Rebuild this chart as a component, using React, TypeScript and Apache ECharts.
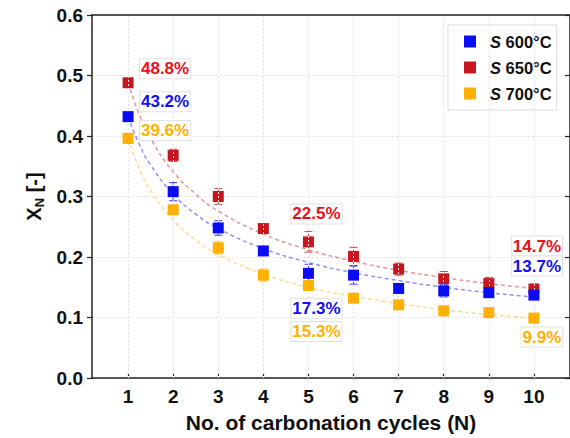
import React, { useEffect, useRef } from "react";
import * as echarts from "echarts";

const cycles = [1, 2, 3, 4, 5, 6, 7, 8, 9, 10];
const s600 = [0.432, 0.308, 0.248, 0.21, 0.173, 0.17, 0.148, 0.144, 0.141, 0.137];
const s650 = [0.488, 0.368, 0.3, 0.247, 0.225, 0.201, 0.18, 0.164, 0.156, 0.147];
const s700 = [0.396, 0.278, 0.215, 0.17, 0.153, 0.132, 0.121, 0.111, 0.108, 0.099];
const err600 = [0.004, 0.015, 0.012, 0.004, 0.015, 0.015, 0.006, 0.01, 0.006, 0.005];
const err650 = [0.004, 0.01, 0.013, 0.004, 0.017, 0.015, 0.01, 0.012, 0.01, 0.008];
const err700 = [0.004, 0.006, 0.01, 0.01, 0.007, 0.004, 0.004, 0.004, 0.004, 0.004];

// fitted trend curves
const fitN = [1, 1.25, 1.5, 2, 2.5, 3, 4, 5, 6, 7, 8, 9, 10];
const fit600 = [0.432, 0.386, 0.352, 0.304, 0.271, 0.247, 0.214, 0.191, 0.174, 0.161, 0.15, 0.141, 0.134];
const fit650 = [0.488, 0.435, 0.396, 0.341, 0.304, 0.276, 0.238, 0.212, 0.193, 0.178, 0.166, 0.156, 0.148];
const fit700 = [0.396, 0.346, 0.31, 0.261, 0.228, 0.204, 0.172, 0.15, 0.135, 0.123, 0.113, 0.105, 0.099];

const seriesNames = ["S 600°C", "S 650°C", "S 700°C"];

// annotations: cycle index and text
const notes600 = [
  { n: 1, text: "43.2%" },
  { n: 5, text: "17.3%" },
  { n: 10, text: "13.7%" },
];
const notes650 = [
  { n: 1, text: "48.8%" },
  { n: 5, text: "22.5%" },
  { n: 10, text: "14.7%" },
];
const notes700 = [
  { n: 1, text: "39.6%" },
  { n: 5, text: "15.3%" },
  { n: 10, text: "9.9%" },
];

const FONT = "'Liberation Sans', Arial, sans-serif";
const C600 = "#0a0cf5";
const C650 = "#c8161e";
const C700 = "#ffb000";
const L600 = "#1010f0";
const L650 = "#e8101a";
const L700 = "#ffb000";

export default function App() {
  const ref = useRef<HTMLDivElement>(null);
  useEffect(() => {
    document.body.style.margin = "0";
    const chart = echarts.init(ref.current!, null, { renderer: "svg" });

    const offsets: Record<string, number[][]> = {
      s600: [[37, -15], [8, 35], [3, -29]],
      s650: [[37, -14], [8, -28], [3, -43]],
      s700: [[37, -8], [8, 46], [8, 19]],
    };

    const makeMarks = (notes: { n: number; text: string }[], vals: number[], color: string, offs: number[][]) => ({
      symbol: "rect",
      symbolSize: 0,
      silent: true,
      data: notes.map((nt, i) => ({
        coord: [nt.n, vals[cycles.indexOf(nt.n)]],
        value: nt.text,
        label: {
          show: true,
          position: "inside",
          offset: offs[i],
          formatter: nt.text,
          color,
          fontFamily: FONT,
          fontWeight: "bold",
          fontSize: 17,
          backgroundColor: "#ffffff",
          borderColor: "#e2e2e2",
          borderWidth: 1,
          padding: [2, 1, 0, 1],
        },
      })),
    });

    const errSeries = (vals: number[], errs: number[], color: string, z: number) => ({
      type: "custom",
      z,
      silent: true,
      data: cycles.map((c, i) => [c, vals[i], errs[i]]),
      renderItem: (params: any, api: any) => {
        const x = api.value(0);
        const y = api.value(1);
        const e = api.value(2);
        const top = api.coord([x, y + e]);
        const bot = api.coord([x, y - e]);
        const w = 4;
        const style = { stroke: color, lineWidth: 1, opacity: 0.8 };
        return {
          type: "group",
          children: [
            { type: "line", shape: { x1: top[0], y1: top[1], x2: bot[0], y2: bot[1] }, style },
            { type: "line", shape: { x1: top[0] - w, y1: top[1], x2: top[0] + w, y2: top[1] }, style },
            { type: "line", shape: { x1: bot[0] - w, y1: bot[1], x2: bot[0] + w, y2: bot[1] }, style },
          ],
        };
      },
    });

    const fitSeries = (vals: number[], color: string) => ({
      type: "line",
      data: fitN.map((n, i) => [n, vals[i]]),
      smooth: true,
      symbol: "none",
      silent: true,
      z: 1,
      lineStyle: { color, width: 1.5, type: [4, 3], opacity: 0.45 },
    });

    const scatter = (name: string, vals: number[], color: string, z: number, marks: any) => ({
      name,
      type: "scatter",
      symbol: "rect",
      symbolSize: 11,
      z,
      itemStyle: { color, opacity: 1 },
      data: cycles.map((c, i) => [c, vals[i]]),
      markPoint: marks,
    });

    chart.setOption({
      animation: false,
      backgroundColor: "#ffffff",
      grid: { left: 92, top: 15, right: -5, bottom: 58.7, containLabel: false },
      legend: {
        data: seriesNames,
        left: 448,
        top: 25,
        orient: "vertical",
        itemWidth: 12,
        itemHeight: 12,
        itemGap: 9,
        icon: "rect",
        backgroundColor: "#ffffff",
        borderColor: "#dddddd",
        borderWidth: 1,
        borderRadius: 0,
        padding: [8, 5, 8, 16],
        itemStyle: { opacity: 1 },
        formatter: (name: string) => "{i|S}{t|" + name.slice(1) + "}",
        textStyle: {
          fontFamily: FONT,
          fontWeight: "bold",
          fontSize: 16.5,
          color: "#111",
          padding: [0, 0, 0, 9],
          rich: {
            i: { fontFamily: FONT, fontWeight: "bold", fontStyle: "italic", fontSize: 16.5, color: "#111" },
            t: { fontFamily: FONT, fontWeight: "bold", fontSize: 16.5, color: "#111" },
          },
        },
      },
      xAxis: [
        {
          type: "value",
          min: 0.2,
          max: 10.8,
          name: "No. of carbonation cycles (N)",
          nameLocation: "middle",
          nameGap: 34,
          nameTextStyle: { fontFamily: FONT, fontWeight: "bold", fontSize: 21, color: "#111" },
          axisLine: { show: true, onZero: false, lineStyle: { color: "#222", width: 1.5 } },
          axisTick: { show: true, inside: true, length: 5, customValues: cycles, lineStyle: { color: "#222", width: 1.2 } },
          axisLabel: {
            customValues: cycles,
            margin: 9,
            fontFamily: FONT,
            fontWeight: "bold",
            fontSize: 19,
            color: "#111",
          },
          splitLine: { show: false },
        },
        {
          type: "value",
          position: "top",
          min: 0.2,
          max: 10.8,
          axisLine: { show: true, onZero: false, lineStyle: { color: "#222", width: 1.5 } },
          axisTick: { show: false },
          axisLabel: { show: false },
          splitLine: { show: false },
        },
      ],
      yAxis: [
        {
          type: "value",
          min: 0,
          max: 0.6,
          interval: 0.1,
          name: "X{sub|N} [-]",
          nameLocation: "middle",
          nameGap: 46,
          nameRotate: 90,
          nameTextStyle: {
            fontFamily: FONT,
            fontWeight: "bold",
            fontSize: 20,
            color: "#111",
            rich: {
              sub: { fontFamily: FONT, fontWeight: "bold", fontSize: 13, color: "#111", verticalAlign: "bottom", padding: [10, 0, 0, 0] },
            },
          },
          axisLine: { show: true, onZero: false, lineStyle: { color: "#222", width: 1.5 } },
          axisTick: { show: true, inside: false, length: 5, lineStyle: { color: "#222", width: 1.2 } },
          axisLabel: {
            margin: 9,
            fontFamily: FONT,
            fontWeight: "bold",
            fontSize: 19,
            color: "#111",
            formatter: (v: number) => v.toFixed(1),
          },
          splitLine: { show: true, lineStyle: { color: "#e4e4e4", width: 1, type: [2, 2] } },
        },
        {
          type: "value",
          position: "right",
          min: 0,
          max: 0.6,
          interval: 0.1,
          axisLine: { show: true, onZero: false, lineStyle: { color: "#222", width: 1.5 } },
          axisTick: { show: true, inside: true, length: 5, lineStyle: { color: "#222", width: 1.2 } },
          axisLabel: { show: false },
          splitLine: { show: false },
        },
      ],
      series: [
        {
          type: "line",
          silent: true,
          data: [],
          markLine: {
            silent: true,
            symbol: "none",
            label: { show: false },
            lineStyle: { color: "#e4e4e4", width: 1, type: [2, 2] },
            data: cycles.map((c) => ({ xAxis: c })),
          },
        },
        fitSeries(fit650, C650),
        fitSeries(fit600, C600),
        fitSeries(fit700, C700),
        errSeries(s650, err650, C650, 2),
        scatter(seriesNames[1], s650, C650, 3, makeMarks(notes650, s650, L650, offsets.s650)),
        errSeries(s600, err600, C600, 4),
        scatter(seriesNames[0], s600, C600, 5, makeMarks(notes600, s600, L600, offsets.s600)),
        errSeries(s700, err700, C700, 6),
        scatter(seriesNames[2], s700, C700, 7, makeMarks(notes700, s700, L700, offsets.s700)),
      ],
    });
    return () => chart.dispose();
  }, []);
  return <div ref={ref} style={{ position: "absolute", left: 0, top: 0, width: 570, height: 438 }} />;
}
